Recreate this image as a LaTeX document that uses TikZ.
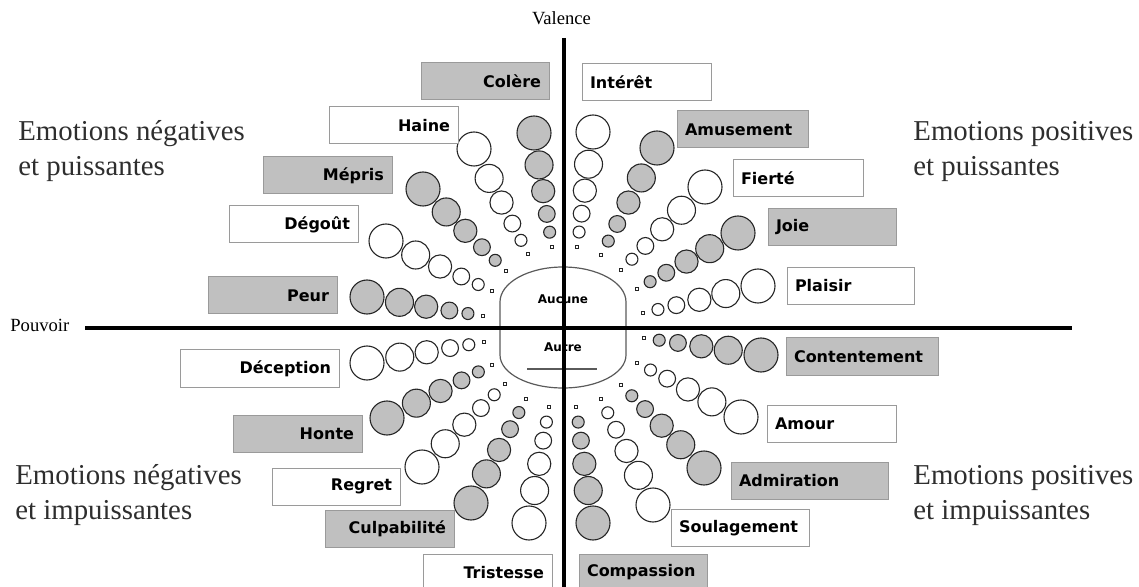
\documentclass[tikz,border=0pt]{standalone}
\usepackage{fontspec}
\setmainfont{Liberation Serif}
\newfontfamily\boxfont{DejaVu Sans}
\usetikzlibrary{calc}
\definecolor{fillgray}{HTML}{C0C0C0}
\definecolor{edgegray}{HTML}{9A9A9A}
\definecolor{inkgray}{HTML}{2E2E2E}
\definecolor{rimgray}{HTML}{5A5A5A}
\tikzset{
  emo/.style={draw=edgegray, line width=0.5pt, minimum height=18.5pt,
    inner xsep=4pt, inner ysep=0pt, font=\boxfont\bfseries\fontsize{8}{9}\selectfont},
  negbox/.style={emo, align=right},
  posbox/.style={emo, align=left},
  bub/.style={draw=black!85, line width=0.55pt},
  quad/.style={font=\fontsize{14.4}{17.5}\selectfont, text=inkgray, inner sep=0pt, align=left},
  axislabel/.style={font=\fontsize{9.3}{11}\selectfont, inner sep=0pt},
  axis/.style={line width=1.6pt},
}
% one spoke: fill, outer circle, inner square
\newcommand\spoke[3]{%
  \draw[bub, fill=#1] #2 circle[radius=8.5pt];
  \draw[bub, fill=#1] ($#2!0.28!#3$) circle[radius=7pt];
  \draw[bub, fill=#1] ($#2!0.51!#3$) circle[radius=5.8pt];
  \draw[bub, fill=#1] ($#2!0.71!#3$) circle[radius=4.2pt];
  \draw[bub, fill=#1] ($#2!0.87!#3$) circle[radius=3pt];
  \draw[bub, line width=0.4pt, fill=white] ($#3+(-0.9pt,-0.9pt)$) rectangle ++(1.8pt,1.8pt);
}
\begin{document}
\begin{tikzpicture}[x=0.5pt, y=-0.5pt]
    \useasboundingbox (0,0) rectangle (1139,587);
    \coordinate (W) at (85,328);
    \coordinate (E) at (1072,328);
    \coordinate (N) at (564,38);
    \coordinate (S) at (564,592);
    % centre
    \draw [rimgray, line width=0.6pt] (500,328) -- (500,302)
        arc [start angle=180, end angle=0, x radius=31.5pt, y radius=17.5pt]
        -- (626,355)
        arc [start angle=0, end angle=-180, x radius=31.5pt, y radius=16.5pt]
        -- cycle;
    \draw [rimgray, line width=0.8pt] (527,369) -- (597,369);
    \node [font=\boxfont\bfseries\fontsize{6}{7}\selectfont] (none) at (563,299) {Aucune};
    \node [font=\boxfont\bfseries\fontsize{6}{7}\selectfont] (other) at (563,347) {Autre};
    % spokes
    \spoke{fillgray}{(534,133)}{(552,247)}
    \spoke{white}{(474,149)}{(528,254)}
    \spoke{fillgray}{(423,189)}{(506,271)}
    \spoke{white}{(386,241)}{(492,291)}
    \spoke{fillgray}{(367,297)}{(483,316)}
    \spoke{white}{(593,132)}{(577,247)}
    \spoke{fillgray}{(657,148)}{(601,255)}
    \spoke{white}{(705,187)}{(621,270)}
    \spoke{fillgray}{(738,233)}{(637,289)}
    \spoke{white}{(758,286)}{(643,313)}
    \spoke{white}{(367,363)}{(484,342)}
    \spoke{fillgray}{(387,418)}{(492,365)}
    \spoke{white}{(422,467)}{(505,384)}
    \spoke{fillgray}{(471,503)}{(526,399)}
    \spoke{white}{(529,523)}{(549,407)}
    \spoke{fillgray}{(761,355)}{(644,338)}
    \spoke{white}{(741,417)}{(637,363)}
    \spoke{fillgray}{(704,468)}{(621,385)}
    \spoke{white}{(653,505)}{(601,399)}
    \spoke{fillgray}{(593,523)}{(576,407)}
    % axes
    \draw [axis] (W) -- (E);
    \draw [axis] (N) -- (S);
    \node [axislabel, anchor=base] (valence) at (561.5,25) {Valence};
    \node [axislabel, anchor=base west] (pouvoir) at (10,332) {Pouvoir};
    % labels
    \node [negbox, fill=fillgray, text width=56pt] (colere) at (485,81.5) {Colère};
    \node [negbox, fill=white, text width=56.5pt] (haine) at (393.5,125.5) {Haine};
    \node [negbox, fill=fillgray, text width=56.5pt] (mepris) at (327.5,175.5) {Mépris};
    \node [negbox, fill=white, text width=56.5pt] (degout) at (293.5,224.5) {Dégoût};
    \node [negbox, fill=fillgray, text width=56.5pt] (peur) at (272.5,295.5) {Peur};
    \node [posbox, fill=white, text width=56.5pt] (interet) at (646.5,82) {Intérêt};
    \node [posbox, fill=fillgray, text width=57.5pt] (amusement) at (742.5,129.5) {Amusement};
    \node [posbox, fill=white, text width=57pt] (fierte) at (798,178) {Fierté};
    \node [posbox, fill=fillgray, text width=56pt] (joie) at (832,227) {Joie};
    \node [posbox, fill=white, text width=55.5pt] (plaisir) at (850.5,286) {Plaisir};
    \node [negbox, fill=white, text width=71.5pt] (deception) at (259.5,368.5) {Déception};
    \node [negbox, fill=fillgray, text width=56.5pt] (honte) at (297.5,433.5) {Honte};
    \node [negbox, fill=white, text width=56pt] (regret) at (336,486.5) {Regret};
    \node [negbox, fill=fillgray, text width=56.5pt] (culpabilite) at (389.5,529) {Culpabilité};
    \node [negbox, fill=white, text width=56.5pt] (tristesse) at (487.5,572.5) {Tristesse};
    \node [posbox, fill=fillgray, text width=68pt] (contentement) at (862,356.5) {Contentement};
    \node [posbox, fill=white, text width=56.5pt] (amour) at (831.5,423.5) {Amour};
    \node [posbox, fill=fillgray, text width=70.5pt] (admiration) at (809.5,480.5) {Admiration};
    \node [posbox, fill=white, text width=61pt] (soulagement) at (740,528) {Soulagement};
    \node [posbox, fill=fillgray, text width=56pt] (compassion) at (643,572.5) {Compassion};
    % quadrants
    \node [quad, anchor=base west] (negpow) at (18,176) {Emotions négatives\\et puissantes};
    \node [quad, anchor=base west] (pospow) at (913,176) {Emotions positives\\et puissantes};
    \node [quad, anchor=base west] (negweak) at (15,519) {Emotions négatives\\et impuissantes};
    \node [quad, anchor=base west] (posweak) at (913,519) {Emotions positives\\et impuissantes};
\end{tikzpicture}
\end{document}
